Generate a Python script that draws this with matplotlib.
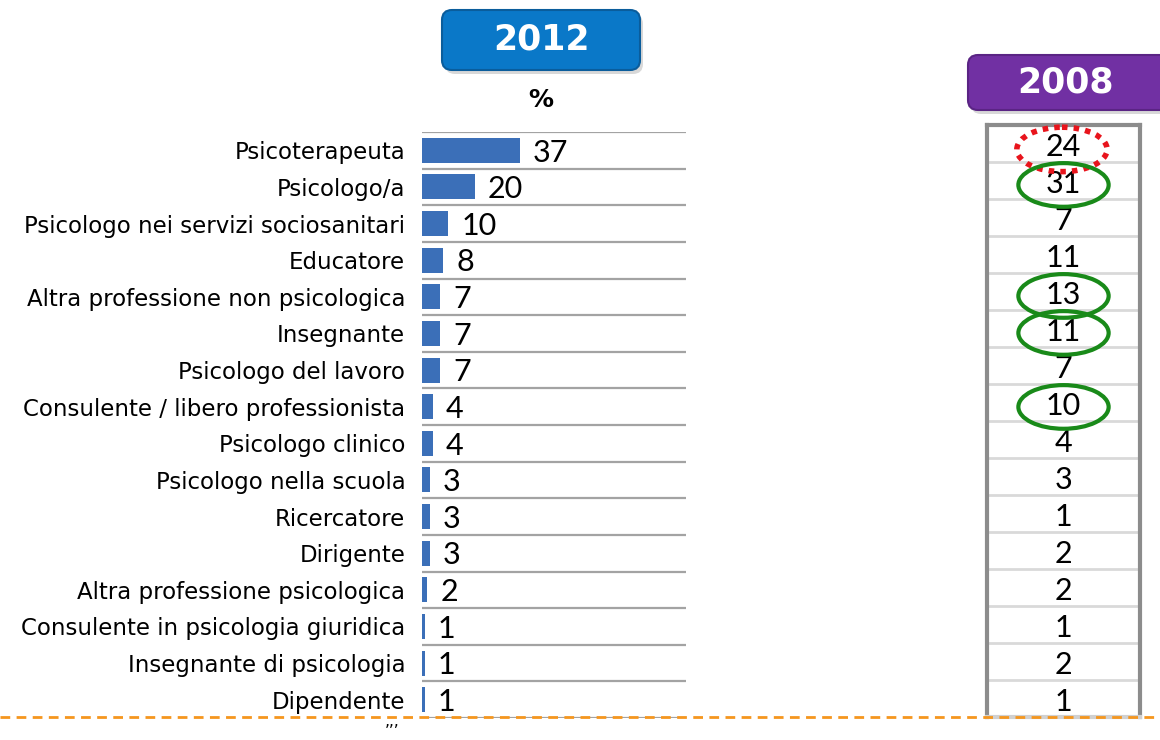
import matplotlib.pyplot as plt
from matplotlib.patches import Ellipse, FancyBboxPatch
from matplotlib.lines import Line2D

categories = ["Psicoterapeuta", "Psicologo/a", "Psicologo nei servizi sociosanitari",
              "Educatore", "Altra professione non psicologica", "Insegnante",
              "Psicologo del lavoro", "Consulente / libero professionista",
              "Psicologo clinico", "Psicologo nella scuola", "Ricercatore", "Dirigente",
              "Altra professione psicologica", "Consulente in psicologia giuridica",
              "Insegnante di psicologia", "Dipendente"]
values_2012 = [37, 20, 10, 8, 7, 7, 7, 4, 4, 3, 3, 3, 2, 1, 1, 1]
values_2008 = [24, 31, 7, 11, 13, 11, 7, 10, 4, 3, 1, 2, 2, 1, 2, 1]
marked_red = [0]
marked_green = [1, 4, 5, 7]

W, H = 1160, 740
fig = plt.figure(figsize=(W / 100, H / 100), dpi=100)
num_font = "Lato"


def px_box(x0, y0, x1, y1):
    # pixel box (top-left origin) -> figure fraction rect
    return [x0 / W, 1 - y1 / H, (x1 - x0) / W, (y1 - y0) / H]


# --- 2012 bars ---
ax = fig.add_axes(px_box(422, 132, 686, 718))
n = len(categories)
ypos = [i + 0.5 for i in range(n)]
ax.barh(ypos, values_2012, height=0.68, color="#3b6fb8", edgecolor="none", zorder=3)
ax.hlines(range(n + 1), 0, 100, color="#a3a3a3", lw=1.6, zorder=2)
for y, v in zip(ypos, values_2012):
    ax.text(v + 5.0, y + 0.06, str(v), va="center", ha="left",
            fontsize=22, family=num_font, color="black")
ax.set_xlim(0, 100)
ax.set_ylim(n, 0)
ax.set_yticks(ypos)
ax.set_yticklabels(categories, fontsize=16.5, family="DejaVu Sans")
ax.tick_params(axis="y", length=0, pad=12)
ax.set_xticks([])
for s in ax.spines.values():
    s.set_visible(False)

# --- 2008 table ---
tx = fig.add_axes(px_box(987, 125, 1140, 717))
tx.set_xlim(0, 1)
tx.set_ylim(n, 0)
tx.hlines(range(1, n), 0, 1, color="#d9d9d9", lw=2)
for y, v in zip(ypos, values_2008):
    tx.text(0.5, y + 0.1, str(v), ha="center", va="center",
            fontsize=22, family=num_font, color="black")
tx.set_xticks([])
tx.set_yticks([])
for side in ["left", "right", "top", "bottom"]:
    tx.spines[side].set_color("#8c8c8c")
    tx.spines[side].set_linewidth(3)
tx.spines["bottom"].set_color("#d0d0d0")

for i in marked_red:
    tx.add_patch(Ellipse((0.49, i + 0.66), 0.59, 1.2, fill=False, edgecolor="#e8141c",
                         lw=4, linestyle=(0, (1, 1.1)), clip_on=False, zorder=5))
for i in marked_green:
    tx.add_patch(Ellipse((0.5, i + 0.62), 0.59, 1.18, fill=False, edgecolor="#198a19",
                         lw=3, clip_on=False, zorder=5))

# --- header buttons (inches) ---
def button(x0, y0, x1, y1, color, edge, label, tx_x):
    shadow = FancyBboxPatch((x0 / 100 + 0.03, 7.4 - y1 / 100 - 0.04), (x1 - x0) / 100, (y1 - y0) / 100,
                            boxstyle="round,pad=0,rounding_size=0.1",
                            transform=fig.dpi_scale_trans, fc="#bfbfbf", ec="none", alpha=0.6)
    box = FancyBboxPatch((x0 / 100, 7.4 - y1 / 100), (x1 - x0) / 100, (y1 - y0) / 100,
                         boxstyle="round,pad=0,rounding_size=0.1",
                         transform=fig.dpi_scale_trans, fc=color, ec=edge, lw=1.5)
    fig.patches.extend([shadow, box])
    fig.text(tx_x / W, 1 - ((y0 + y1) / 2) / H, label, ha="center", va="center",
             color="white", fontsize=25, fontweight="bold", family="DejaVu Sans")


button(442, 10, 640, 70, "#0a78c8", "#0a5d9c", "2012", 541)
button(968, 55, 1175, 110, "#7130a3", "#5a2484", "2008", 1066)

fig.text(541 / W, 1 - 100 / H, "%", ha="center", va="center", fontsize=18,
         fontweight="bold", family="DejaVu Sans")

# orange dashed separator
fig.add_artist(Line2D([0, 1], [1 - 717 / H, 1 - 717 / H], transform=fig.transFigure,
                      color="#f5961e", lw=2, linestyle=(0, (3.5, 2.3)), zorder=6))

fig.text(392 / W, 1 - 731 / H, "\u2019\u2019\u2019", ha="center", va="center", fontsize=11)

fig.savefig("out.png", dpi=100)
